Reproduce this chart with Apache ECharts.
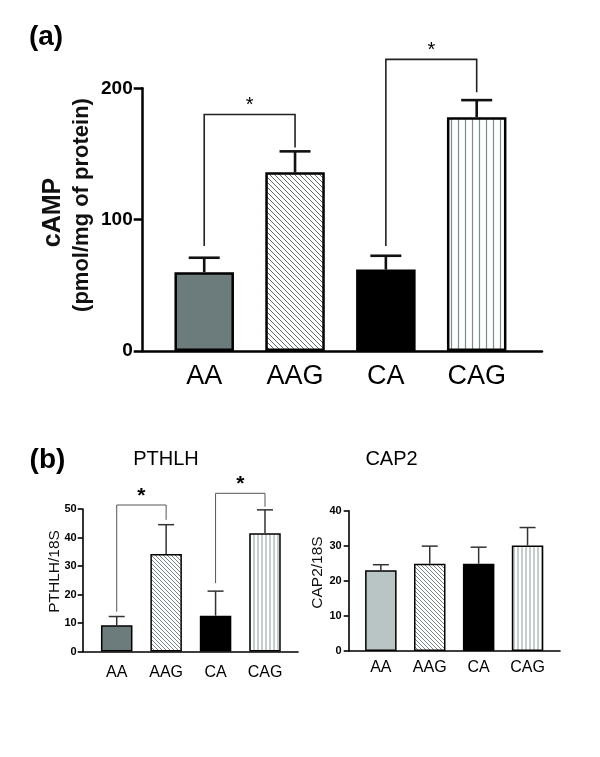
<!DOCTYPE html>
<html>
<head>
<meta charset="utf-8">
<script src="https://cdn.jsdelivr.net/npm/echarts@6/dist/echarts.min.js"></script>
<style>
html,body{margin:0;padding:0;background:#fff;}
#chart{width:600px;height:757px;}
</style>
</head>
<body>
<div id="chart"></div>
<script>
// ---------- data ----------
const categories = ['AA', 'AAG', 'CA', 'CAG'];
const campMean = [60, 136, 62, 178];
const campErr = [11, 16, 10.5, 13];
const campBrackets = [[0, 1, 180, 80, 155], [2, 3, 222, 80, 197]]; // left, right, top, left foot, right foot
const pthlhMean = [9.2, 34.2, 12.6, 41.5];
const pthlhErr = [3.1, 10.3, 8.6, 8.2];
const pthlhBrackets = [[0, 1, 51.4, 14, 46.2], [2, 3, 55.5, 24, 50.8]];
const cap2Mean = [23.0, 24.9, 24.9, 30.1];
const cap2Err = [1.6, 5.0, 4.7, 5.1];
const campTicks = { min: 0, max: 200, interval: 100 };
const pthlhTicks = { min: 0, max: 50, interval: 10 };
const cap2Ticks = { min: 0, max: 40, interval: 10 };

// ---------- patterns ----------
function diagPattern(s, color, lw) {
  const c = document.createElement('canvas');
  c.width = s; c.height = s;
  const g = c.getContext('2d');
  g.fillStyle = '#fff'; g.fillRect(0, 0, s, s);
  g.strokeStyle = color; g.lineWidth = lw;
  g.beginPath();
  g.moveTo(-1, -1); g.lineTo(s + 1, s + 1);
  g.moveTo(s - 1, -1); g.lineTo(s + 1, 1);
  g.moveTo(-1, s - 1); g.lineTo(1, s + 1);
  g.stroke();
  return { image: c, repeat: 'repeat' };
}
function vertPattern(s, color, lw) {
  const c = document.createElement('canvas');
  c.width = s; c.height = 4;
  const g = c.getContext('2d');
  g.fillStyle = '#fff'; g.fillRect(0, 0, s, 4);
  g.strokeStyle = color; g.lineWidth = lw;
  g.beginPath(); g.moveTo(s / 2, 0); g.lineTo(s / 2, 4); g.stroke();
  return { image: c, repeat: 'repeat' };
}

const FONT = 'Liberation Sans, Arial, Helvetica, sans-serif';

const fillsA = ['#6c7b7b', diagPattern(5, '#5d6b6b', 1), '#000000', vertPattern(7, '#7b8d8d', 1.2)];
const fillsB1 = ['#6c7b7b', diagPattern(4, '#6a7777', 0.9), '#000000', vertPattern(4, '#8a9b9b', 1)];
const fillsB2 = ['#b9c5c5', diagPattern(4, '#6a7777', 0.9), '#000000', vertPattern(4, '#8a9b9b', 1)];

// ---------- layout ----------
const panels = [
  { frame: { left: 142.7, top: 88.3, width: 399.3, height: 262.7 },
    bars: { left: 158.8, top: 88.3, width: 363.3, height: 262.7 },
    ticks: campTicks, mean: campMean, err: campErr, brackets: campBrackets, fills: fillsA,
    axisW: 2.5, tickLen: 9, tickFont: 19, labelMargin: 10, catFont: 27, catMargin: 12,
    barWidth: 59.5, border: 2.5, errW: 2.6, capHalf: 15.5, errColor: '#111',
    brW: 1.6, brColor: '#222', starFont: 'normal 20px ' + FONT, starOff: 9 },
  { frame: { left: 82.7, top: 509, width: 215.3, height: 142.6 },
    bars: { left: 92, top: 509, width: 197.7, height: 142.6 },
    ticks: pthlhTicks, mean: pthlhMean, err: pthlhErr, brackets: pthlhBrackets, fills: fillsB1,
    axisW: 1.6, tickLen: 5, tickFont: 11, labelMargin: 6, catFont: 16, catMargin: 13,
    barWidth: 31.5, border: 1.5, errW: 1.5, capHalf: 8, errColor: '#333',
    brW: 1, brColor: '#555', starFont: 'bold 21px ' + FONT, starOff: 9 },
  { frame: { left: 348.7, top: 510.7, width: 211.3, height: 140.3 },
    bars: { left: 356.4, top: 510.7, width: 195.6, height: 140.3 },
    ticks: cap2Ticks, mean: cap2Mean, err: cap2Err, brackets: [], fills: fillsB2,
    axisW: 1.6, tickLen: 5, tickFont: 11, labelMargin: 7, catFont: 16, catMargin: 9,
    barWidth: 31.5, border: 1.5, errW: 1.5, capHalf: 8, errColor: '#333',
    brW: 1, brColor: '#555', starFont: 'bold 21px ' + FONT, starOff: 9 }
];

const grid = [], xAxis = [], yAxis = [], series = [];
panels.forEach((p, k) => {
  const gf = grid.length;
  grid.push(Object.assign({ containLabel: false }, p.frame));
  grid.push(Object.assign({ containLabel: false }, p.bars));
  // frame axes
  xAxis.push({ gridIndex: gf, type: 'value', min: 0, max: 1,
    axisLine: { show: true, onZero: false, lineStyle: { color: '#000', width: p.axisW } },
    axisTick: { show: false }, axisLabel: { show: false }, splitLine: { show: false } });
  yAxis.push({ gridIndex: gf, type: 'value', min: p.ticks.min, max: p.ticks.max, interval: p.ticks.interval,
    axisLine: { show: true, lineStyle: { color: '#000', width: p.axisW } },
    axisTick: { show: true, length: p.tickLen, lineStyle: { color: '#000', width: p.axisW } },
    axisLabel: { color: '#000', fontFamily: FONT, fontWeight: 'bold', fontSize: p.tickFont, margin: p.labelMargin },
    splitLine: { show: false } });
  // bar axes
  xAxis.push({ gridIndex: gf + 1, type: 'category', data: categories,
    axisLine: { show: false }, axisTick: { show: false },
    axisLabel: { color: '#000', fontFamily: FONT, fontSize: p.catFont, margin: p.catMargin } });
  yAxis.push({ gridIndex: gf + 1, type: 'value', min: p.ticks.min, max: p.ticks.max, show: false });

  const xi = gf + 1, yi = gf + 1;
  series.push({
    type: 'bar', xAxisIndex: xi, yAxisIndex: yi, barWidth: p.barWidth, z: 2,
    data: p.mean.map((v, i) => ({ value: v, itemStyle: { color: p.fills[i] } })),
    itemStyle: { borderColor: '#000', borderWidth: p.border },
    emphasis: { disabled: true }, silent: true
  });
  series.push({
    type: 'custom', xAxisIndex: xi, yAxisIndex: yi, z: 3, silent: true,
    data: p.mean.map((v, i) => [i, v, p.err[i]]),
    renderItem: (params, api) => {
      const i = api.value(0), m = api.value(1), e = api.value(2);
      const a = api.coord([i, m]), b = api.coord([i, m + e]);
      const st = { stroke: p.errColor, lineWidth: p.errW };
      return { type: 'group', children: [
        { type: 'line', shape: { x1: a[0], y1: a[1], x2: b[0], y2: b[1] }, style: st },
        { type: 'line', shape: { x1: b[0] - p.capHalf, y1: b[1], x2: b[0] + p.capHalf, y2: b[1] }, style: st }
      ] };
    }
  });
  if (p.brackets.length) {
    series.push({
      type: 'custom', xAxisIndex: xi, yAxisIndex: yi, z: 4, silent: true, clip: false,
      data: p.brackets,
      renderItem: (params, api) => {
        const l = api.value(0), r = api.value(1), t = api.value(2), lb = api.value(3), rb = api.value(4);
        const p1 = api.coord([l, lb]), p2 = api.coord([l, t]), p3 = api.coord([r, t]), p4 = api.coord([r, rb]);
        return { type: 'group', children: [
          { type: 'polyline', shape: { points: [p1, p2, p3, p4] },
            style: { stroke: p.brColor, lineWidth: p.brW, fill: null } },
          { type: 'text', x: (p2[0] + p3[0]) / 2, y: p2[1] - p.starOff,
            style: { text: '*', font: p.starFont, fill: '#000', textAlign: 'center', textVerticalAlign: 'middle' } }
        ] };
      }
    });
  }
});

const graphic = [
  { type: 'text', x: 46, y: 37, style: { text: '(a)', font: 'bold 28px ' + FONT, fill: '#000', textAlign: 'center', textVerticalAlign: 'middle' } },
  { type: 'text', x: 53, y: 212.5, rotation: Math.PI / 2, style: { text: 'cAMP', font: 'bold 25px ' + FONT, fill: '#111', textAlign: 'center', textVerticalAlign: 'middle' } },
  { type: 'text', x: 82, y: 205, rotation: Math.PI / 2, style: { text: '(pmol/mg of protein)', font: 'bold 22px ' + FONT, fill: '#111', textAlign: 'center', textVerticalAlign: 'middle' } },
  { type: 'text', x: 47.5, y: 460.5, style: { text: '(b)', font: 'bold 28px ' + FONT, fill: '#000', textAlign: 'center', textVerticalAlign: 'middle' } },
  { type: 'text', x: 166, y: 459, style: { text: 'PTHLH', font: 'normal 20px ' + FONT, fill: '#000', textAlign: 'center', textVerticalAlign: 'middle' } },
  { type: 'text', x: 391.5, y: 459, style: { text: 'CAP2', font: 'normal 20px ' + FONT, fill: '#000', textAlign: 'center', textVerticalAlign: 'middle' } },
  { type: 'text', x: 55, y: 571.5, rotation: Math.PI / 2, style: { text: 'PTHLH/18S', font: 'normal 15.5px ' + FONT, fill: '#111', textAlign: 'center', textVerticalAlign: 'middle' } },
  { type: 'text', x: 317.5, y: 572.5, rotation: Math.PI / 2, style: { text: 'CAP2/18S', font: 'normal 15.5px ' + FONT, fill: '#111', textAlign: 'center', textVerticalAlign: 'middle' } }
];

const chart = echarts.init(document.getElementById('chart'), null, { renderer: 'canvas' });
chart.setOption({
  animation: false,
  backgroundColor: '#fff',
  grid, xAxis, yAxis, series, graphic
});
</script>
</body>
</html>
